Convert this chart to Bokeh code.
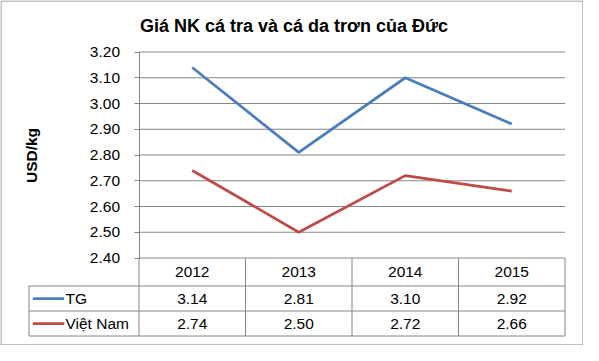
import numpy as np
from bokeh.plotting import figure
from bokeh.models import Range1d, FixedTicker, NumeralTickFormatter
from bokeh.embed import file_html
from bokeh.resources import INLINE
from bokeh.core.properties import value

# ---------------- data ----------------
title_text = "Giá NK cá tra và cá da trơn của Đức"
y_label = "USD/kg"
years = ["2012", "2013", "2014", "2015"]
series_names = ["TG", "Việt Nam"]
tg = [3.14, 2.81, 3.10, 2.92]
vn = [2.74, 2.50, 2.72, 2.66]
y_ticks = [2.40, 2.50, 2.60, 2.70, 2.80, 2.90, 3.00, 3.10, 3.20]

# ---------------- style / layout (pixels on the canvas) ----------------
colors = ["#4A7EBB", "#BE4B48"]
GRID = "#868686"
FONT = "Liberation Sans"
FS = "15.5px"

W, H = 583, 345
FL = 138.5                                   # canvas x of plot-area left edge
COL_W = 106.5                                # width of one category column
Y_HI_PX, Y_LO_PX = 51.5, 257.5               # canvas y of top / bottom tick
ROW_PX = [257.5, 285.5, 310.5, 335.5]        # table row boundaries
LEG_L = 28.5                                 # legend column left
SAMPLE = (32.3, 63.7)                        # legend line sample extent
LABEL_X = 65                                 # legend text left
TITLE_XY = (293.5, 25)

n = len(years)
ymin, ymax = y_ticks[0], y_ticks[-1]
k = (ymax - ymin) / (Y_LO_PX - Y_HI_PX)


def py2y(py):
    return ymin - (py - Y_LO_PX) * k


def px2x(px):
    return (px - FL) / COL_W


p = figure(width=W, height=H, output_backend="svg", toolbar_location=None, title=None,
           x_axis_location=None,
           x_range=Range1d(px2x(0), px2x(W)),
           y_range=Range1d(py2y(H), py2y(0)),
           min_border=0)
p.outline_line_color = None
p.background_fill_color = "white"
p.border_fill_color = "white"
p.xgrid.visible = False
p.ygrid.visible = False

# y axis, drawn at the plot-area left edge inside the frame
ya = p.yaxis[0]
ya.fixed_location = 0
ya.bounds = (ymin, ymax)
ya.ticker = FixedTicker(ticks=y_ticks)
ya.formatter = NumeralTickFormatter(format="0.00")
ya.axis_line_color = GRID
ya.major_tick_line_color = GRID
ya.major_tick_out = 5
ya.major_tick_in = 0
ya.minor_tick_line_color = None
ya.major_label_standoff = 14
ya.major_label_text_font = FONT
ya.major_label_text_font_size = FS
ya.major_label_text_color = "black"
ya.axis_label = y_label
ya.axis_label_text_font = FONT
ya.axis_label_text_font_size = FS
ya.axis_label_text_font_style = "bold"
ya.axis_label_text_color = "black"
ya.axis_label_standoff = 47

# horizontal grid lines (plot area only)
p.segment(x0=[0] * len(y_ticks), x1=[n] * len(y_ticks), y0=y_ticks, y1=y_ticks,
          line_color=GRID, line_width=1)

# series lines
xc = np.arange(n) + 0.5
for vals, col in zip([tg, vn], colors):
    p.line(xc, vals, line_color=col, line_width=2.75)

# data table grid
row_y = [py2y(r) for r in ROW_PX]
p.segment(x0=[px2x(LEG_L)] * 3, x1=[n] * 3, y0=row_y[1:], y1=row_y[1:],
          line_color=GRID, line_width=1)
vx = [0] + list(range(1, n + 1))
p.segment(x0=vx, x1=vx, y0=[row_y[0]] * len(vx), y1=[row_y[-1]] * len(vx),
          line_color=GRID, line_width=1)
p.segment(x0=[px2x(LEG_L)], x1=[px2x(LEG_L)], y0=[row_y[1]], y1=[row_y[-1]],
          line_color=GRID, line_width=1)

# table texts
centers = [py2y((ROW_PX[i] + ROW_PX[i + 1]) / 2) for i in range(3)]
p.text(x=xc, y=[centers[0]] * n, text=years, text_align="center", text_baseline="middle",
       text_font=value(FONT), text_font_size=FS, text_color="black")
for i, vals in enumerate([tg, vn]):
    p.text(x=xc, y=[centers[i + 1]] * n, text=[f"{v:.2f}" for v in vals],
           text_align="center", text_baseline="middle",
           text_font=value(FONT), text_font_size=FS, text_color="black")

# legend keys inside the table
for i, (name, col) in enumerate(zip(series_names, colors)):
    p.segment(x0=[px2x(SAMPLE[0])], x1=[px2x(SAMPLE[1])], y0=[centers[i + 1]], y1=[centers[i + 1]],
              line_color=col, line_width=2.75)
    p.text(x=[px2x(LABEL_X)], y=[centers[i + 1]], text=[name], text_align="left",
           text_baseline="middle", text_font=value(FONT), text_font_size=FS, text_color="black")

# title
p.text(x=[px2x(TITLE_XY[0])], y=[py2y(TITLE_XY[1])], text=[title_text], text_align="center",
       text_baseline="middle", text_font=value(FONT), text_font_size="18px",
       text_font_style="bold", text_color="black")

# outer border of the chart
p.quad(left=[px2x(0.5)], right=[px2x(W - 0.5)], top=[py2y(0.5)], bottom=[py2y(H - 0.5)],
       fill_color=None, line_color=GRID, line_width=1)

open("out.html", "w").write(file_html(p, INLINE))
